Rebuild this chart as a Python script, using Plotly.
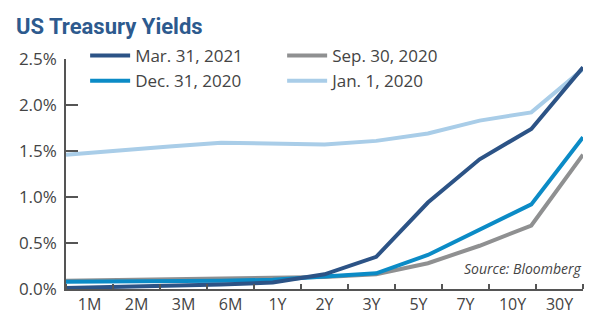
import plotly.graph_objects as go

categories = ["1M", "2M", "3M", "6M", "1Y", "2Y", "3Y", "5Y", "7Y", "10Y", "30Y"]
mar_2021 = [0.01, 0.02, 0.03, 0.05, 0.07, 0.16, 0.35, 0.94, 1.41, 1.74, 2.41]
sep_2020 = [0.09, 0.10, 0.10, 0.11, 0.12, 0.13, 0.16, 0.28, 0.47, 0.69, 1.46]
dec_2020 = [0.08, 0.08, 0.09, 0.09, 0.10, 0.13, 0.17, 0.37, 0.65, 0.92, 1.65]
jan_2020 = [1.46, 1.51, 1.55, 1.59, 1.58, 1.57, 1.61, 1.69, 1.83, 1.92, 2.39]
y_ticks = [0.0, 0.5, 1.0, 1.5, 2.0, 2.5]

n = len(categories)
xs = list(range(n))
span = n - 1
label_pos = [(i + 0.5) * span / n for i in range(n)]
bound_pos = [k * span / n for k in range(n + 1)]

FONT = "Open Sans"
TXT = "#444444"

series = [
    ("Jan. 1, 2020", jan_2020, "#a9cde8", 4),
    ("Sep. 30, 2020", sep_2020, "#8f9091", 2),
    ("Dec. 31, 2020", dec_2020, "#0b8bc6", 3),
    ("Mar. 31, 2021", mar_2021, "#2c5386", 1),
]

fig = go.Figure()
for name, vals, col, rank in series:
    fig.add_trace(go.Scatter(x=xs, y=vals, mode="lines", name=name,
                             line=dict(color=col, width=4),
                             legendrank=rank))

fig.update_layout(
    width=600, height=331,
    margin=dict(l=66, r=17, t=59, b=42),
    paper_bgcolor="white", plot_bgcolor="white",
    font=dict(family=FONT, color=TXT, size=16),
    title=dict(text="<b>US Treasury Yields</b>", x=16/600, xanchor="left",
               y=1 - 26/331, yanchor="middle",
               font=dict(family="Roboto", size=22, color="#2d5a8e")),
    showlegend=True,
    legend=dict(orientation="h", x=0.037, y=(289 - 38) / 230, xanchor="left", yanchor="top",
                entrywidth=142, entrywidthmode="pixels",
                font=dict(size=17, color=TXT), bgcolor="rgba(0,0,0,0)",
                itemwidth=40, tracegroupgap=0),
    xaxis=dict(range=[0, span], showgrid=False, zeroline=False,
               showline=True, linecolor="#555555", linewidth=1.5,
               tickmode="array", tickvals=label_pos, ticktext=categories, ticks="",
               tickfont=dict(size=16, color=TXT),
               minor=dict(tickmode="array", tickvals=bound_pos, ticks="inside", ticklen=5,
                          tickcolor="#555555", tickwidth=1.5, showgrid=False)),
    yaxis=dict(range=[0, 2.5], showgrid=False, zeroline=False,
               showline=True, linecolor="#555555", linewidth=1.5,
               tickmode="array", tickvals=y_ticks,
               ticktext=[f"{v:.1f}%" for v in y_ticks],
               ticks="inside", ticklen=12, tickcolor="#555555", tickwidth=1.5,
               tickfont=dict(size=17, color=TXT), ticklabelstandoff=4),
    annotations=[dict(text="<i>Source: Bloomberg</i>", xref="paper", yref="paper",
                      x=1, y=(289 - 268) / 230, xanchor="right", yanchor="middle",
                      showarrow=False, font=dict(size=14, color=TXT))],
)

fig.write_html("out.html")
